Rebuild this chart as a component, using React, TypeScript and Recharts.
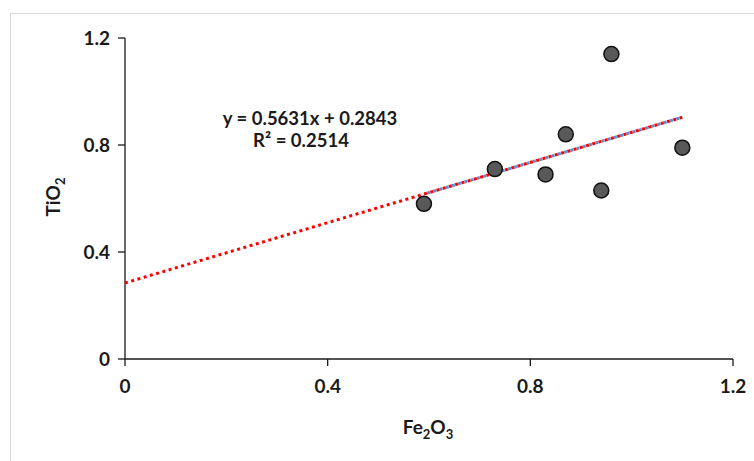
import React from "react";
import {
  ScatterChart,
  Scatter,
  XAxis,
  YAxis,
  Label,
} from "recharts";

const fe2o3 = [0.59, 0.73, 0.83, 0.87, 0.94, 0.96, 1.1];
const tio2 = [0.58, 0.71, 0.69, 0.84, 0.63, 1.14, 0.79];
const xTicks = [0, 0.4, 0.8, 1.2];
const yTicks = [0, 0.4, 0.8, 1.2];

const slope = 0.5631;
const intercept = 0.2843;
const equationText = "y = 0.5631x + 0.2843";
const r2Text = "R² = 0.2514";

const points = fe2o3.map((x, i) => ({ x, y: tio2[i] }));
const fitAt = (x: number) => ({ x, y: slope * x + intercept });
// Excel style: dotted fit over the data, red forecast back to zero
const fitLine = [fitAt(Math.min(...fe2o3)), fitAt(Math.max(...fe2o3))];
const forecastLine = [fitAt(0), fitAt(Math.max(...fe2o3))];

const FONT = "Lato, 'Open Sans', sans-serif";
const INK = "#1a1a1a";

function Dot(props: any) {
  const { cx, cy } = props;
  if (cx == null || cy == null) return null;
  return <circle cx={cx} cy={cy} r={7.5} fill="#595959" stroke="#111" strokeWidth={1.5} />;
}

const NoDot = () => null;

function AxisTitle({ parts, x, y, rotate }: any) {
  return (
    <text
      x={x}
      y={y}
      textAnchor="middle"
      fontFamily={FONT}
      fontWeight={700}
      fontSize={19}
      fill={INK}
      transform={rotate ? `rotate(-90 ${x} ${y})` : undefined}
    >
      {parts.map((p: string, i: number) =>
        i % 2 === 0 ? (
          <tspan key={i} fontSize={19} dy={i === 0 ? 0 : -5}>{p}</tspan>
        ) : (
          <tspan key={i} fontSize={13} dy={5}>{p}</tspan>
        )
      )}
    </text>
  );
}

export default function App() {
  return (
    <div style={{ position: "absolute", left: 0, top: 0, width: 754, height: 461, background: "#fff" }}>
      <div
        style={{
          position: "absolute",
          left: 10,
          top: 13,
          right: 0,
          bottom: 0,
          borderTop: "1.5px solid #d9d9d9",
          borderLeft: "1.5px solid #d9d9d9",
        }}
      />
      <div style={{ position: "absolute", left: 0, top: 0 }}>
        <ScatterChart width={754} height={461} margin={{ top: 38, right: 21, bottom: 42, left: 65 }}>
          <XAxis
            type="number"
            dataKey="x"
            domain={[0, 1.2]}
            ticks={xTicks}
            tickFormatter={(v) => String(v)}
            height={60}
            axisLine={{ stroke: INK, strokeWidth: 1.3 }}
            tickLine={{ stroke: INK, strokeWidth: 1.3 }}
            tickSize={7}
            tick={{ fill: INK, fontSize: 19, fontWeight: 700, fontFamily: FONT, dy: 12 }}
          >
            <Label
              content={() => <AxisTitle x={428} y={434} parts={["Fe", "2", "O", "3"]} />}
            />
          </XAxis>
          <YAxis
            type="number"
            dataKey="y"
            domain={[0, 1.2]}
            ticks={yTicks}
            tickFormatter={(v) => String(v)}
            width={60}
            axisLine={{ stroke: INK, strokeWidth: 1.3 }}
            tickLine={{ stroke: INK, strokeWidth: 1.3 }}
            tickSize={7}
            tick={{ fill: INK, fontSize: 19, fontWeight: 700, fontFamily: FONT, dx: -6 }}
          >
            <Label
              content={() => <AxisTitle x={60} y={197} parts={["TiO", "2"]} rotate />}
            />
          </YAxis>
          <Scatter
            data={fitLine}
            line={{ stroke: "#5b8bd0", strokeWidth: 3, strokeDasharray: "3 3.5", strokeDashoffset: 3.25 }}
            shape={NoDot}
            isAnimationActive={false}
          />
          <Scatter
            data={forecastLine}
            line={{ stroke: "#ff0000", strokeWidth: 3, strokeDasharray: "3 3.5" }}
            shape={NoDot}
            isAnimationActive={false}
          />
          <Scatter data={points} shape={Dot} isAnimationActive={false} />
          <text
            x={310}
            y={125}
            textAnchor="middle"
            fontFamily={FONT}
            fontWeight={700}
            fontSize={18.5}
            fill={INK}
          >
            {equationText}
          </text>
          <text
            x={301}
            y={147}
            textAnchor="middle"
            fontFamily={FONT}
            fontWeight={700}
            fontSize={18.5}
            fill={INK}
          >
            {r2Text}
          </text>
        </ScatterChart>
      </div>
    </div>
  );
}
